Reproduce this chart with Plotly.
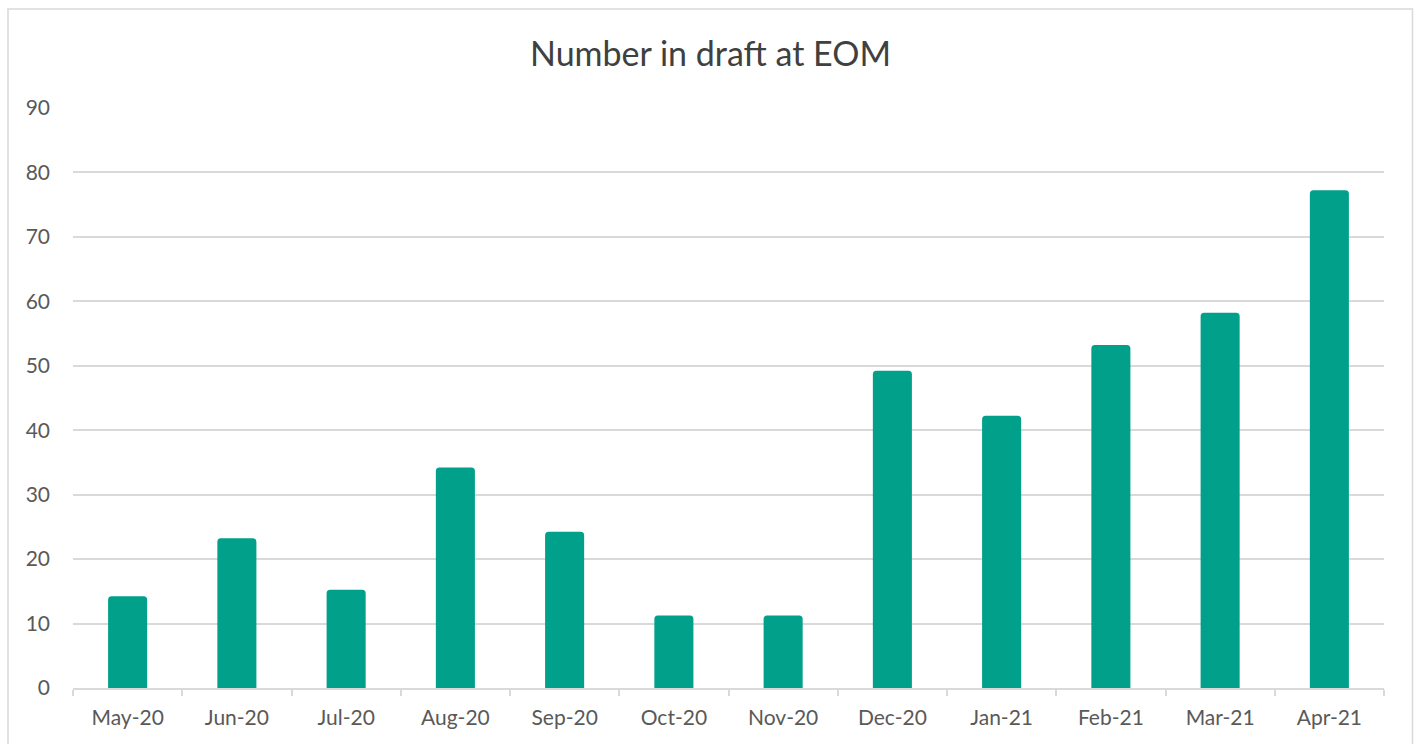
import plotly.graph_objects as go

# Month-end counts of items still in draft
months = ["May-20", "Jun-20", "Jul-20", "Aug-20", "Sep-20", "Oct-20",
          "Nov-20", "Dec-20", "Jan-21", "Feb-21", "Mar-21", "Apr-21"]
in_draft = [14, 23, 15, 34, 24, 11, 11, 49, 42, 53, 58, 77]
y_ticks = [0, 10, 20, 30, 40, 50, 60, 70, 80, 90]

W, H = 1421, 744
ML, MR, MT, MB = 73, 37, 107.5, 56
plot_w = W - ML - MR
plot_h = H - MT - MB

BAR = "#00A08A"
GRID = "#D9D9D9"
TEXT = "#595959"

fig = go.Figure(
    go.Bar(
        x=months,
        y=in_draft,
        width=0.33,
        marker=dict(color=BAR, line=dict(color=BAR, width=3), cornerradius=2),
        hoverinfo="x+y",
    )
)

# outer chart border, expressed in paper coordinates
def px_to_paper_x(px):
    return (px - ML) / plot_w

def px_to_paper_y(py):
    return (H - MB - py) / plot_h

fig.add_shape(
    type="rect", xref="paper", yref="paper",
    x0=px_to_paper_x(8), x1=px_to_paper_x(1412.5),
    y0=px_to_paper_y(760), y1=px_to_paper_y(8.5),
    line=dict(color=GRID, width=1.5), fillcolor="rgba(0,0,0,0)", layer="below",
)

fig.update_layout(
    width=W, height=H,
    margin=dict(l=ML, r=MR, t=MT, b=MB, pad=0),
    paper_bgcolor="white", plot_bgcolor="white",
    showlegend=False,
    font=dict(family="Lato, Carlito, Calibri, sans-serif", size=21, color=TEXT),
    title=dict(
        text="Number in draft at EOM",
        x=0.5, xref="container", xanchor="center",
        y=1 - 54 / H, yref="container", yanchor="middle",
        font=dict(size=34, color="#404040"),
    ),
    bargap=0.5,
)

fig.update_xaxes(
    type="category",
    showline=True, linecolor=GRID, linewidth=1.5,
    ticks="outside", tickson="boundaries", ticklen=6, tickcolor=GRID, tickwidth=1.5,
    showgrid=False, ticklabelstandoff=10,
    tickfont=dict(size=21, color=TEXT),
)
fig.update_yaxes(
    range=[0, 90], tickvals=y_ticks,
    showgrid=True, gridcolor=GRID, gridwidth=1.5,
    zeroline=False, showline=False, ticks="",
    ticklabelstandoff=22,
    tickfont=dict(size=21, color=TEXT),
)

fig.write_html("out.html")
